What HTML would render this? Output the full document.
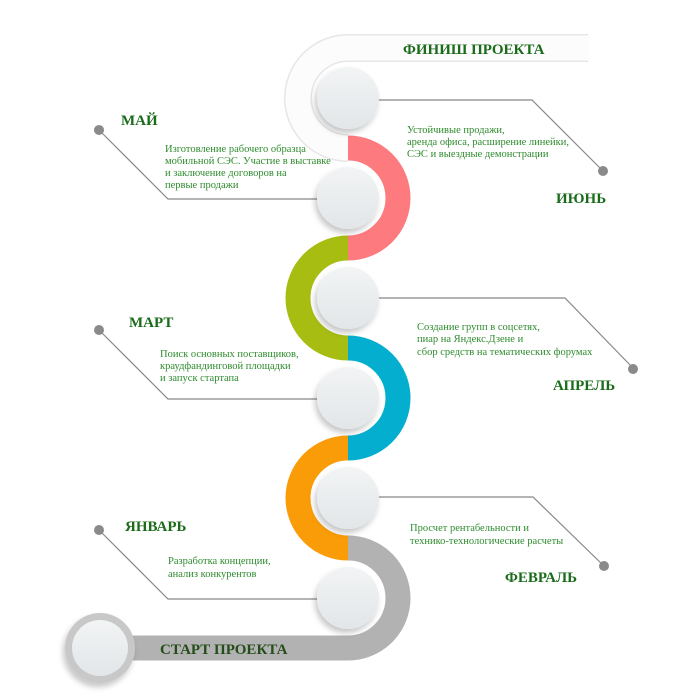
<!DOCTYPE html>
<html><head><meta charset="utf-8"><style>
html,body{margin:0;padding:0;background:#fff;}
svg{display:block;}
.l{font-family:"Liberation Serif",serif;font-weight:bold;fill:#1a6b1a;font-size:15px;}
.d{font-family:"Liberation Serif",serif;fill:#2e8b2e;font-size:10.5px;}
</style></head><body>
<svg width="700" height="700" viewBox="0 0 700 700" xmlns="http://www.w3.org/2000/svg">
<defs>
<filter id="sh" x="-50%" y="-50%" width="200%" height="200%"><feDropShadow dx="-2" dy="4" stdDeviation="3" flood-color="#000" flood-opacity="0.22"/></filter>
<linearGradient id="cg" x1="0" y1="0" x2="0" y2="1"><stop offset="0" stop-color="#f2f4f5"/><stop offset="1" stop-color="#e2e6e8"/></linearGradient>
</defs>
<!-- top faint track -->
<path d="M348 148 A50 50 0 0 1 348 48 L588 48" fill="none" stroke="#e6e6e6" stroke-width="28"/>
<path d="M348 148 A50 50 0 0 1 348 48 L590 48" fill="none" stroke="#fcfcfc" stroke-width="25"/>
<!-- colored arcs -->
<path d="M348 148 A50 50 0 0 1 348 248" fill="none" stroke="#fd7a7f" stroke-width="25"/>
<path d="M348 248 A50 50 0 0 0 348 348" fill="none" stroke="#a8bd12" stroke-width="25"/>
<path d="M348 348 A50 50 0 0 1 348 448" fill="none" stroke="#04aecf" stroke-width="25"/>
<path d="M348 448 A50 50 0 0 0 348 548" fill="none" stroke="#f99c08" stroke-width="25"/>
<path d="M348 548 A50 50 0 0 1 348 648 L100 648" fill="none" stroke="#b2b2b2" stroke-width="25"/>
<!-- connectors -->
<g stroke="#888" stroke-width="1.2" fill="none">
<path d="M378 100 L532 100 L603 171"/>
<path d="M99 130 L168 199 L318 199"/>
<path d="M378 298 L565 298 L633 368"/>
<path d="M99 330 L168 399 L318 399"/>
<path d="M378 497 L533 497 L604 566"/>
<path d="M99 530 L168 599 L318 599"/>
</g>
<g fill="#8a8a8a">
<circle cx="603" cy="171" r="5"/><circle cx="99" cy="130" r="5"/>
<circle cx="633" cy="369" r="5"/><circle cx="99" cy="330" r="5"/>
<circle cx="604" cy="566" r="5"/><circle cx="99" cy="530" r="5"/>
</g>
<!-- circles -->
<g fill="url(#cg)" filter="url(#sh)">
<circle cx="348" cy="98" r="31"/>
<circle cx="348" cy="198" r="31"/>
<circle cx="348" cy="298" r="31"/>
<circle cx="348" cy="398" r="31"/>
<circle cx="348" cy="498" r="31"/>
<circle cx="348" cy="598" r="31"/>
</g>
<circle cx="100" cy="648" r="35" fill="#c8c8c8" filter="url(#sh)"/>
<circle cx="100" cy="648" r="28" fill="url(#cg)"/>
<!-- labels -->
<text class="l" x="403" y="54">ФИНИШ ПРОЕКТА</text>
<text class="l" x="121" y="125">МАЙ</text>
<text class="l" x="556" y="203">ИЮНЬ</text>
<text class="l" x="129" y="327">МАРТ</text>
<text class="l" x="553" y="390">АПРЕЛЬ</text>
<text class="l" x="125" y="531">ЯНВАРЬ</text>
<text class="l" x="505" y="582">ФЕВРАЛЬ</text>
<text class="l" x="160" y="654" style="fill:#244d1a">СТАРТ ПРОЕКТА</text>
<!-- descriptions -->
<text class="d" x="165" y="152">Изготовление рабочего образца</text>
<text class="d" x="165" y="164">мобильной СЭС. Участие в выставке</text>
<text class="d" x="165" y="176">и заключение договоров на</text>
<text class="d" x="165" y="188">первые продажи</text>
<text class="d" x="407" y="133">Устойчивые продажи,</text>
<text class="d" x="407" y="145">аренда офиса, расширение линейки,</text>
<text class="d" x="407" y="157">СЭС и выездные демонстрации</text>
<text class="d" x="417" y="330">Создание групп в соцсетях,</text>
<text class="d" x="417" y="342">пиар на Яндекс.Дзене и</text>
<text class="d" x="417" y="355">сбор средств на тематических форумах</text>
<text class="d" x="160" y="357">Поиск основных поставщиков,</text>
<text class="d" x="160" y="369">краудфандинговой площадки</text>
<text class="d" x="160" y="381">и запуск стартапа</text>
<text class="d" x="410" y="531">Просчет рентабельности и</text>
<text class="d" x="410" y="544">технико-технологические расчеты</text>
<text class="d" x="168" y="564">Разработка концепции,</text>
<text class="d" x="168" y="577">анализ конкурентов</text>
</svg>
</body></html>
